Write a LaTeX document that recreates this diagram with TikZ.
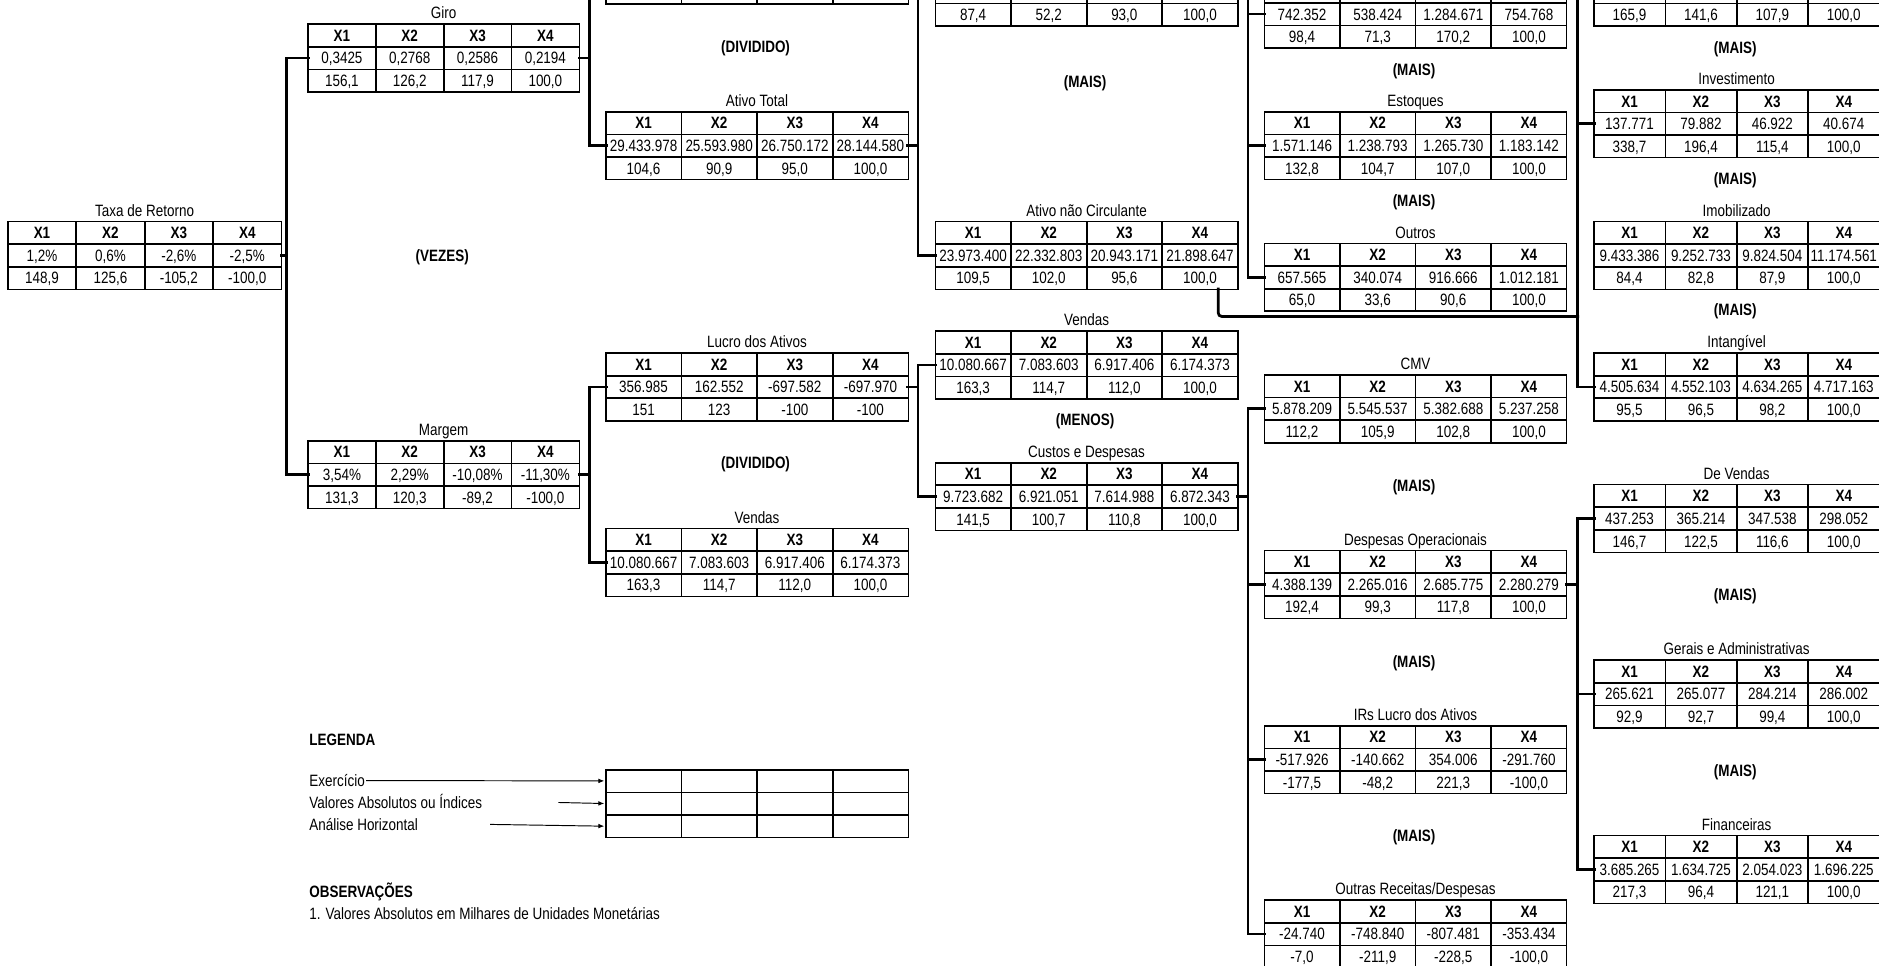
\documentclass[tikz,border=0pt]{standalone}
\usepackage{fontspec}
\setmainfont{Liberation Sans}[FakeStretch=0.82]
\usetikzlibrary{matrix,arrows.meta,calc}
\newcommand\fsz{\fontsize{13.7}{16}\selectfont}
\tikzset{
  tab/.style={matrix of nodes, ampersand replacement=\&, nodes in empty cells,
    anchor=north west, inner sep=0pt, outer sep=0pt, draw=black, line width=1.2pt,
    column sep=0pt, row sep=0pt,
    nodes={draw=black, line width=0.6pt, minimum height=18.3pt, inner sep=0pt, outer sep=0pt,
      text height=9.9pt, text depth=0pt, anchor=center},
    row 1/.style={nodes={font=\fsz\bfseries}}},
  cw/.style={nodes={minimum width=#1}},
  ttl/.style={inner sep=0pt, text height=9.9pt, text depth=0pt},
  op/.style={font=\fsz\bfseries, inner sep=0pt, text height=9.9pt, text depth=0pt},
  lbl/.style={inner sep=1pt, anchor=west, text height=9.9pt, text depth=0pt},
  lblb/.style={lbl, font=\fsz\bfseries},
  conn/.style={line width=2.3pt, line cap=rect},
  arr/.style={line width=0.8pt, -{Latex[length=5pt,width=4pt]}, shorten >=1.5pt},
}
\newcommand\tabela[6]{%
  \matrix[tab, cw=#4] (#1) at (#2,#3) {#6};
  \if\relax\detokenize{#5}\relax\else
  \node[ttl] (#1-t) at ([yshift=9.15pt]#1.north) {#5};\fi
}
\begin{document}
\begin{tikzpicture}[x=1pt,y=-1pt,font=\fsz]
\useasboundingbox (0,0) rectangle (1568,806);
\fill[white] (0,0) rectangle (1568,806);
\clip (0,0) rectangle (1568,806);

% ---------- column A / B ----------
\tabela{taxa}{6.5}{184.7}{56.5pt}{Taxa de Retorno}{
X1 \& X2 \& X3 \& X4 \\
1,2\% \& 0,6\% \& -2,6\% \& -2,5\% \\
148,9 \& 125,6 \& -105,2 \& -100,0 \\}
\tabela{giro}{257}{20}{56pt}{Giro}{
X1 \& X2 \& X3 \& X4 \\
0,3425 \& 0,2768 \& 0,2586 \& 0,2194 \\
156,1 \& 126,2 \& 117,9 \& 100,0 \\}
\tabela{margem}{257}{367.7}{56pt}{Margem}{
X1 \& X2 \& X3 \& X4 \\
3,54\% \& 2,29\% \& -10,08\% \& -11,30\% \\
131,3 \& 120,3 \& -89,2 \& -100,0 \\}

% ---------- column C ----------
\tabela{vtop}{505.5}{-53.2}{62.5pt}{}{
 \& \& \& \\
 \& \& \& \\
 \& \& \& \\}
\tabela{atot}{505.5}{93.2}{62.5pt}{Ativo Total}{
X1 \& X2 \& X3 \& X4 \\
29.433.978 \& 25.593.980 \& 26.750.172 \& 28.144.580 \\
104,6 \& 90,9 \& 95,0 \& 100,0 \\}
\tabela{lucro}{505.5}{294.5}{62.5pt}{Lucro dos Ativos}{
X1 \& X2 \& X3 \& X4 \\
356.985 \& 162.552 \& -697.582 \& -697.970 \\
151 \& 123 \& -100 \& -100 \\}
\tabela{vlow}{505.5}{440.9}{62.5pt}{Vendas}{
X1 \& X2 \& X3 \& X4 \\
10.080.667 \& 7.083.603 \& 6.917.406 \& 6.174.373 \\
163,3 \& 114,7 \& 112,0 \& 100,0 \\}

% ---------- column D ----------
\tabela{acirc}{780.5}{-34.9}{62.5pt}{}{
 \& \& \& \\
 \& \& \& \\
87,4 \& 52,2 \& 93,0 \& 100,0 \\}
\tabela{anc}{780.5}{184.7}{62.5pt}{Ativo não Circulante}{
X1 \& X2 \& X3 \& X4 \\
23.973.400 \& 22.332.803 \& 20.943.171 \& 21.898.647 \\
109,5 \& 102,0 \& 95,6 \& 100,0 \\}
\tabela{vmid}{780.5}{276.2}{62.5pt}{Vendas}{
X1 \& X2 \& X3 \& X4 \\
10.080.667 \& 7.083.603 \& 6.917.406 \& 6.174.373 \\
163,3 \& 114,7 \& 112,0 \& 100,0 \\}
\tabela{custos}{780.5}{386}{62.5pt}{Custos e Despesas}{
X1 \& X2 \& X3 \& X4 \\
9.723.682 \& 6.921.051 \& 7.614.988 \& 6.872.343 \\
141,5 \& 100,7 \& 110,8 \& 100,0 \\}

% ---------- column E ----------
\tabela{disp}{1055}{-16.6}{62.5pt}{}{
 \& \& \& \\
742.352 \& 538.424 \& 1.284.671 \& 754.768 \\
98,4 \& 71,3 \& 170,2 \& 100,0 \\}
\tabela{estoq}{1055}{93.2}{62.5pt}{Estoques}{
X1 \& X2 \& X3 \& X4 \\
1.571.146 \& 1.238.793 \& 1.265.730 \& 1.183.142 \\
132,8 \& 104,7 \& 107,0 \& 100,0 \\}
\tabela{outros}{1055}{203}{62.5pt}{Outros}{
X1 \& X2 \& X3 \& X4 \\
657.565 \& 340.074 \& 916.666 \& 1.012.181 \\
65,0 \& 33,6 \& 90,6 \& 100,0 \\}
\tabela{cmv}{1055}{312.8}{62.5pt}{CMV}{
X1 \& X2 \& X3 \& X4 \\
5.878.209 \& 5.545.537 \& 5.382.688 \& 5.237.258 \\
112,2 \& 105,9 \& 102,8 \& 100,0 \\}
\tabela{despop}{1055}{459.2}{62.5pt}{Despesas Operacionais}{
X1 \& X2 \& X3 \& X4 \\
4.388.139 \& 2.265.016 \& 2.685.775 \& 2.280.279 \\
192,4 \& 99,3 \& 117,8 \& 100,0 \\}
\tabela{irs}{1055}{605.6}{62.5pt}{IRs Lucro dos Ativos}{
X1 \& X2 \& X3 \& X4 \\
-517.926 \& -140.662 \& 354.006 \& -291.760 \\
-177,5 \& -48,2 \& 221,3 \& -100,0 \\}
\tabela{outras}{1055}{751}{62.5pt}{Outras Receitas/Despesas}{
X1 \& X2 \& X3 \& X4 \\
-24.740 \& -748.840 \& -807.481 \& -353.434 \\
-7,0 \& -211,9 \& -228,5 \& -100,0 \\}

% ---------- column F ----------
\tabela{frtop}{1330}{-34.9}{59pt}{}{
 \& \& \& \\
 \& \& \& \\
165,9 \& 141,6 \& 107,9 \& 100,0 \\}
\tabela{invest}{1330}{74.9}{59pt}{Investimento}{
X1 \& X2 \& X3 \& X4 \\
137.771 \& 79.882 \& 46.922 \& 40.674 \\
338,7 \& 196,4 \& 115,4 \& 100,0 \\}
\tabela{imob}{1330}{184.7}{59pt}{Imobilizado}{
X1 \& X2 \& X3 \& X4 \\
9.433.386 \& 9.252.733 \& 9.824.504 \& 11.174.561 \\
84,4 \& 82,8 \& 87,9 \& 100,0 \\}
\tabela{intang}{1330}{294.5}{59pt}{Intangível}{
X1 \& X2 \& X3 \& X4 \\
4.505.634 \& 4.552.103 \& 4.634.265 \& 4.717.163 \\
95,5 \& 96,5 \& 98,2 \& 100,0 \\}
\tabela{devend}{1330}{404.3}{59pt}{De Vendas}{
X1 \& X2 \& X3 \& X4 \\
437.253 \& 365.214 \& 347.538 \& 298.052 \\
146,7 \& 122,5 \& 116,6 \& 100,0 \\}
\tabela{gerais}{1330}{550.7}{59pt}{Gerais e Administrativas}{
X1 \& X2 \& X3 \& X4 \\
265.621 \& 265.077 \& 284.214 \& 286.002 \\
92,9 \& 92,7 \& 99,4 \& 100,0 \\}
\tabela{financ}{1330}{697.1}{59pt}{Financeiras}{
X1 \& X2 \& X3 \& X4 \\
3.685.265 \& 1.634.725 \& 2.054.023 \& 1.696.225 \\
217,3 \& 96,4 \& 121,1 \& 100,0 \\}

% ---------- operator labels ----------
\node[op] (op1) at (630.5,39) {(DIVIDIDO)};
\node[op] (op2) at (905.5,68) {(MAIS)};
\node[op] (op3) at (369,213) {(VEZES)};
\node[op] (op4) at (630.5,386) {(DIVIDIDO)};
\node[op] (op5) at (905.5,350) {(MENOS)};
\node[op] (op6) at (1180,58) {(MAIS)};
\node[op] (op7) at (1180,167) {(MAIS)};
\node[op] (op8) at (1180,405.5) {(MAIS)};
\node[op] (op9) at (1180,552) {(MAIS)};
\node[op] (op10) at (1180,697.5) {(MAIS)};
\node[op] (op11) at (1448,39.5) {(MAIS)};
\node[op] (op12) at (1448,149) {(MAIS)};
\node[op] (op13) at (1448,258) {(MAIS)};
\node[op] (op14) at (1448,496.5) {(MAIS)};
\node[op] (op15) at (1448,643) {(MAIS)};

% ---------- buses ----------
\coordinate (busA) at (239,0);
\coordinate (busC) at (492,0);
\coordinate (busD) at (766,0);
\coordinate (busE) at (1041.5,0);
\coordinate (busF) at (1316.5,0);

% Taxa -> Giro / Margem
\draw[conn] (taxa-2-4.east) -- (taxa-2-4.east -| busA);
\draw[conn] (giro-2-1.west) -- (giro-2-1.west -| busA) -- (margem-2-1.west -| busA) -- (margem-2-1.west);
% Giro -> Vendas / Ativo Total
\draw[conn] (giro-2-4.east) -- (giro-2-4.east -| busC);
\draw[conn] (vtop-2-1.west) -- (vtop-2-1.west -| busC) -- (atot-2-1.west -| busC) -- (atot-2-1.west);
% Margem -> Lucro / Vendas
\draw[conn] (margem-2-4.east) -- (margem-2-4.east -| busC);
\draw[conn] (lucro-2-1.west) -- (lucro-2-1.west -| busC) -- (vlow-2-1.west -| busC) -- (vlow-2-1.west);
% Ativo Total -> AC / ANC
\draw[conn] (atot-2-4.east) -- (atot-2-4.east -| busD);
\draw[conn] (acirc-2-1.west) -- (acirc-2-1.west -| busD) -- (anc-2-1.west -| busD) -- (anc-2-1.west);
% Lucro -> Vendas / Custos
\draw[conn] (lucro-2-4.east) -- (lucro-2-4.east -| busD);
\draw[conn] (vmid-2-1.west) -- (vmid-2-1.west -| busD) -- (custos-2-1.west -| busD) -- (custos-2-1.west);
% AC -> Disponivel / Estoques / Outros
\draw[conn] (acirc-2-4.east) -- (acirc-2-4.east -| busE) -- (outros-2-1.west -| busE) -- (outros-2-1.west);
\draw[conn] (disp-2-1.west) -- (disp-2-1.west -| busE);
\draw[conn] (estoq-2-1.west) -- (estoq-2-1.west -| busE);
% ANC -> far right column
\draw[conn] (frtop-2-1.west) -- (frtop-2-1.west -| busF) -- (intang-2-1.west -| busF) -- (intang-2-1.west);
\draw[conn] (invest-2-1.west) -- (invest-2-1.west -| busF);
\coordinate (ancout) at ($(anc-3-4.south east)+(-16,0)$);
\coordinate (ancjoin) at ([yshift=-23pt]ancout);
\draw[conn, rounded corners=3pt] (ancout) |- (ancjoin -| busF);
% Custos -> CMV / DespOp / IRs / Outras
\draw[conn] (custos-2-4.east) -- (custos-2-4.east -| busE);
\draw[conn] (cmv-2-1.west) -- (cmv-2-1.west -| busE) -- (outras-2-1.west -| busE) -- (outras-2-1.west);
\draw[conn] (despop-2-1.west) -- (despop-2-1.west -| busE);
\draw[conn] (irs-2-1.west) -- (irs-2-1.west -| busE);
% DespOp -> De Vendas / Gerais / Financeiras
\draw[conn] (despop-2-4.east) -- (despop-2-4.east -| busF);
\draw[conn] (devend-2-1.west) -- (devend-2-1.west -| busF) -- (financ-2-1.west -| busF) -- (financ-2-1.west);
\draw[conn] (gerais-2-1.west) -- (gerais-2-1.west -| busF);

% ---------- legend ----------
\tabela{leg}{505.5}{642.2}{62.5pt}{}{
 \& \& \& \\
 \& \& \& \\
 \& \& \& \\}
\node[lblb] (legenda) at (257,617) {LEGENDA};
\node[lbl] (exerc) at (257,651.35) {Exercício};
\node[lbl] (valabs) at (257,669.65) {Valores Absolutos ou Índices};
\node[lbl] (anhor) at (257,687.95) {Análise Horizontal};
\coordinate (a2) at (466,669.65);
\coordinate (a3) at (409,687.95);
\draw[arr] (exerc.east) -- (leg-1-1.west);
\draw[arr] (a2) -- (leg-2-1.west);
\draw[arr] (a3) -- (leg-3-1.west);
\node[lblb] (obs) at (257,744) {OBSERVAÇÕES};
\node[lbl] (obs1) at (257,762.5) {1. Valores Absolutos em Milhares de Unidades Monetárias};
\end{tikzpicture}
\end{document}
